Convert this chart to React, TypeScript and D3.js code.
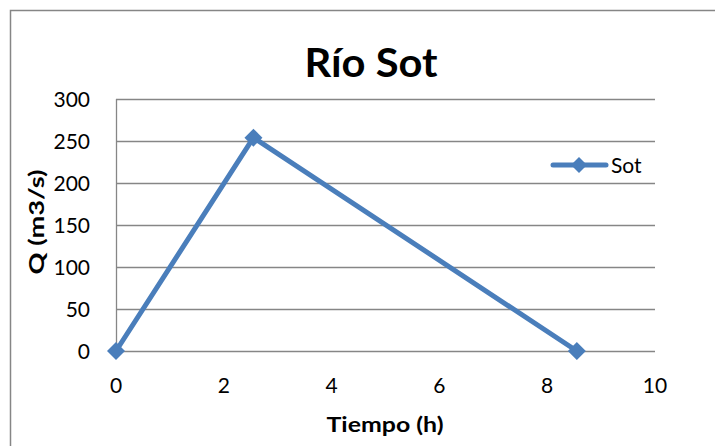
import React from "react";
import * as d3 from "d3";

const seriesName = "Sot";
const timeValues = [0, 2.55, 8.55];
const flowValues = [0, 254, 0];
const xTicks = [0, 2, 4, 6, 8, 10];
const yTicks = [0, 50, 100, 150, 200, 250, 300];

const W = 715;
const H = 446;
const FONT = "Lato, 'Open Sans', sans-serif";
const BLUE = "#4a7ebb";
const GRID = "#868686";

function diamondPath(r: number) {
  return `M0,${-r}L${r},0L0,${r}L${-r},0Z`;
}

export default function App() {
  const x = d3.scaleLinear().domain([0, 10]).range([116, 655]);
  const y = d3.scaleLinear().domain([0, 300]).range([351, 99]);
  const pts = timeValues.map((t, i) => [t, flowValues[i]] as [number, number]);
  const line = d3.line<[number, number]>().x(d => x(d[0])).y(d => y(d[1]));
  return (
    <svg width={W} height={H} style={{ position: "absolute", left: 0, top: 0, background: "#fff" }}>
      <rect x={10.5} y={10.5} width={730} height={460} fill="#fff" stroke={GRID} strokeWidth={1.5} />
      <text x={371} y={77} textAnchor="middle" fontFamily={FONT} fontWeight="bold" fontSize={41} textLength={133} lengthAdjust="spacingAndGlyphs">Río Sot</text>
      {yTicks.map(t => (
        <g key={t}>
          <line x1={x(0)} x2={x(10)} y1={Math.round(y(t)) + 0.5} y2={Math.round(y(t)) + 0.5} stroke={GRID} strokeWidth={1.3} />
          <text x={90} y={y(t) + 7.5} textAnchor="end" fontFamily={FONT} fontSize={21}>{t}</text>
        </g>
      ))}
      <line x1={x(0) + 0.5} x2={x(0) + 0.5} y1={y(300)} y2={y(0)} stroke={GRID} strokeWidth={1.3} />
      {xTicks.map(t => (
        <text key={t} x={x(t)} y={393} textAnchor="middle" fontFamily={FONT} fontSize={21}>{t}</text>
      ))}
      <text x={385} y={432} textAnchor="middle" fontFamily={FONT} fontWeight="bold" fontSize={21} textLength={117} lengthAdjust="spacingAndGlyphs">Tiempo (h)</text>
      <text transform="translate(44,222) rotate(-90)" textAnchor="middle" fontFamily={FONT} fontWeight="bold" fontSize={21} textLength={105} lengthAdjust="spacingAndGlyphs">Q (m3/s)</text>
      <path d={line(pts) || ""} fill="none" stroke={BLUE} strokeWidth={5} strokeLinejoin="round" />
      {pts.map((p, i) => (
        <path key={i} d={diamondPath(9)} transform={`translate(${x(p[0])},${y(p[1])})`} fill={BLUE} />
      ))}
      <line x1={553} x2={606} y1={165} y2={165} stroke={BLUE} strokeWidth={5} strokeLinecap="round" />
      <path d={diamondPath(8)} transform="translate(579,165)" fill={BLUE} />
      <text x={611} y={172.5} fontFamily={FONT} fontSize={21}>{seriesName}</text>
    </svg>
  );
}
